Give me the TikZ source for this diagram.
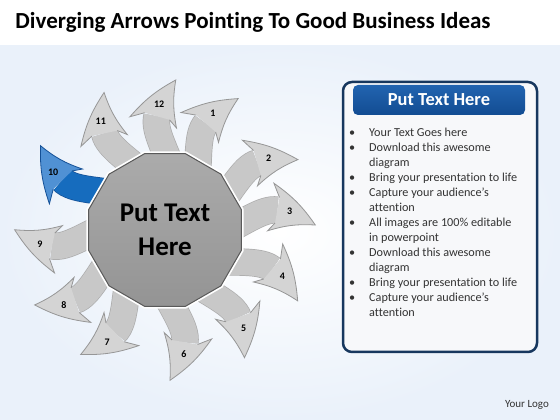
\documentclass[tikz,border=0pt]{standalone}
\usepackage{fontspec}
\setmainfont{Carlito}[Ligatures={TeX,NoCommon}]
\usetikzlibrary{shapes.geometric}

\definecolor{arrowgray}{RGB}{200,200,200}
\definecolor{arrowedge}{RGB}{172,172,172}
\definecolor{headgray}{RGB}{212,212,212}
\definecolor{headedge}{RGB}{150,150,150}
\definecolor{pickblue}{RGB}{22,108,190}
\definecolor{pickbluelight}{RGB}{80,145,212}
\definecolor{pickedge}{RGB}{20,80,150}
\definecolor{panelnavy}{RGB}{23,55,94}
\definecolor{headtop}{RGB}{34,100,176}
\definecolor{headbottom}{RGB}{18,76,146}
\definecolor{bodytext}{RGB}{51,51,51}
\definecolor{bgblue}{RGB}{234,241,250}

\newcommand{\bpoint}{\makebox[20pt][l]{\textbullet}}
\newcommand{\bindent}{\hspace*{20pt}}

\begin{document}
\begin{tikzpicture}[x=1pt,y=1pt,
  shaft/.style={line width=0.7pt, draw=arrowedge, double=arrowgray, double distance=26pt},
  headfill/.style={fill=headgray},
  headline/.style={draw=headedge, line width=0.8pt, line join=miter},
  blueshaft/.style={line width=0.7pt, draw=pickedge, double=pickblue, double distance=26pt},
  bluefill/.style={fill=pickbluelight},
  blueline/.style={draw=pickedge, line width=0.8pt, line join=miter},
  numlabel/.style={font=\fontsize{10}{10}\selectfont\bfseries, text=black, inner sep=0pt},
  hub/.style={regular polygon, regular polygon sides=12, minimum size=158pt, inner sep=0pt,
    top color=black!33, bottom color=black!42, draw=black!65, line width=1pt,
    preaction={draw=white, line width=4.5pt},
    font=\fontsize{27}{34}\selectfont\bfseries, align=center},
  panel/.style={draw=panelnavy, line width=2.5pt, fill={rgb,255:red,247;green,248;blue,250}, rounded corners=9pt},
  headerbar/.style={rounded corners=5pt, top color=headtop, bottom color=headbottom,
    minimum width=172pt, minimum height=30pt, text=white, font=\fontsize{18.4}{18.4}\selectfont\bfseries},
  bulletlist/.style={anchor=north west, inner sep=0pt, align=left, text=bodytext,
    font=\fontsize{12.2}{15}\selectfont}]
\useasboundingbox (0,0) rectangle (560,420);

% Background
\shade[inner color=white, outer color=bgblue] (0,0) rectangle (560,375);
\fill[white] (0,375) rectangle (560,420);

% Title
\node[font=\fontsize{23}{23}\selectfont\bfseries, text=black] (heading) at (253,398)
  {Diverging Arrows Pointing To Good Business Ideas};

% Arrows round the hub
\coordinate (hubc) at (165,190);
\foreach \num/\ang in {1/69, 2/36, 3/10, 4/-20, 5/-50, 6/-80, 7/-116, 8/-142, 9/-172, 11/122, 12/94} {
  \begin{scope}[shift={(hubc)}, rotate=\ang]
    \draw[shaft] (40,-18) .. controls (78,-7) and (100,5) .. (114,0);
    \fill[headfill] (118.4,12.2) -- (115.4,27.1) to[bend left=10] (148.9,-21.2)
      to[bend right=10] (100.9,-18.6) -- (109.6,-12.2) -- cycle;
    \draw[headline] (118.4,12.2) -- (115.4,27.1) to[bend left=10] (148.9,-21.2)
      to[bend right=10] (100.9,-18.6) -- (109.6,-12.2);
    \node[numlabel] (n\num) at (126,-3) {\num};
  \end{scope}
}

% Highlighted arrow
\begin{scope}[shift={(hubc)}, rotate=154]
  \draw[blueshaft] (40,-18) .. controls (78,-7) and (100,5) .. (114,0);
  \fill[bluefill] (118.4,12.2) -- (115.4,27.1) to[bend left=10] (148.9,-21.2)
    to[bend right=10] (100.9,-18.6) -- (109.6,-12.2) -- cycle;
  \draw[blueline] (118.4,12.2) -- (115.4,27.1) to[bend left=10] (148.9,-21.2)
    to[bend right=10] (100.9,-18.6) -- (109.6,-12.2);
  \node[numlabel] (n10) at (126,-3) {10};
\end{scope}

% Hub
\node[hub] (hub) at (hubc) {Put Text\\Here};

% Text panel
\draw[panel] (343,68) rectangle (537,338);
\node[headerbar] (header) at (439,320) {Put Text Here};
\node[bulletlist] (points) at (349,292) {%
  \bpoint Your Text Goes here\\
  \bpoint Download this awesome\\
  \bindent diagram\\
  \bpoint Bring your presentation to life\\
  \bpoint Capture your audience’s\\
  \bindent attention\\
  \bpoint All images are 100\% editable\\
  \bindent in powerpoint\\
  \bpoint Download this awesome\\
  \bindent diagram\\
  \bpoint Bring your presentation to life\\
  \bpoint Capture your audience’s\\
  \bindent attention};

% Logo
\node[font=\fontsize{11}{11}\selectfont, text=bodytext] (logo) at (527,15) {Your Logo};
\end{tikzpicture}
\end{document}
